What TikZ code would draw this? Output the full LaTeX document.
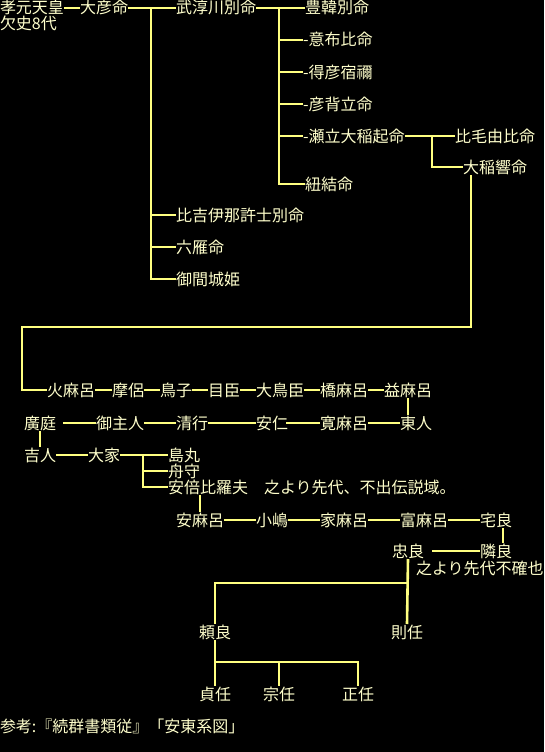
\documentclass[tikz,border=0pt]{standalone}
\usepackage{fontspec}
\setmainfont{Noto Sans CJK JP}
\definecolor{txt}{RGB}{255,255,204}
\definecolor{ln}{RGB}{255,255,128}
\begin{document}
\begin{tikzpicture}[x=1pt,y=-1pt,
  lbl/.style={anchor=west,inner sep=0pt,outer sep=0pt,text=txt,
    font=\fontsize{16}{16}\selectfont,text height=14pt,text depth=2pt},
  lblc/.style={lbl,anchor=center},
  conn/.style={draw=ln,line width=2.6pt}]
\fill[black] (0,0) rectangle (544,752);
\useasboundingbox (0,0) rectangle (544,752);
% nodes
\node[lbl] (kogen) at (0,8) {孝元天皇};
\node[lbl] (kesshi) at (0,24) {欠史8代};
\node[lbl] (ohiko) at (80,8) {大彦命};
\node[lbl] (take) at (176,8) {武淳川別命};
\node[lbl] (toyo) at (305,8) {豊韓別命};
\node[lbl] (ofu) at (303,40) {-意布比命};
\node[lbl] (toku) at (303,72) {-得彦宿禰};
\node[lbl] (hikose) at (303,104) {-彦背立命};
\node[lbl] (seta) at (303,136) {-瀬立大稲起命};
\node[lbl] (himo) at (455,136) {比毛由比命};
\node[lbl] (oina) at (463,167) {大稲響命};
\node[lbl] (himoyui) at (305,184) {紐結命};
\node[lbl] (hiki) at (176,215) {比吉伊那許士別命};
\node[lbl] (mutsu) at (176,247) {六雁命};
\node[lbl] (mima) at (176,279) {御間城姫};
% row 390
\node[lbl] (hima) at (47,390) {火麻呂};
\node[lbl] (maro) at (112,390) {摩侶};
\node[lbl] (tori) at (160,390) {鳥子};
\node[lbl] (meomi) at (208,390) {目臣};
\node[lbl] (otori) at (256,390) {大鳥臣};
\node[lbl] (hashi) at (320,390) {橋麻呂};
\node[lbl] (masu) at (384,390) {益麻呂};
% row 423
\node[lbl] (hiro) at (24,423) {廣庭};
\node[lbl] (miushi) at (96,423) {御主人};
\node[lbl] (kiyo) at (176,423) {清行};
\node[lbl] (yasu) at (256,423) {安仁};
\node[lbl] (kan) at (320,423) {寛麻呂};
\node[lbl] (azuma) at (400,423) {東人};
% row 455
\node[lbl] (kichi) at (24,455) {吉人};
\node[lbl] (oie) at (88,455) {大家};
\node[lbl] (shima) at (168,455) {島丸};
\node[lbl] (funa) at (168,471) {舟守};
\node[lbl] (abe) at (168,487) {安倍比羅夫};
\node[lbl] (note1) at (264,487) {之より先代、不出伝説域。};
% row 520
\node[lbl] (yasumaro) at (176,520) {安麻呂};
\node[lbl] (kojima) at (256,520) {小嶋};
\node[lbl] (iemaro) at (320,520) {家麻呂};
\node[lbl] (tomi) at (400,520) {富麻呂};
\node[lbl] (takara) at (480,520) {宅良};
\node[lbl] (tada) at (392,551) {忠良};
\node[lbl] (tonari) at (480,551) {隣良};
\node[lbl] (note2) at (416,568) {之より先代不確也};
\node[lblc] (yori) at (215,632) {頼良};
\node[lblc] (nori) at (407,632) {則任};
\node[lblc] (sada) at (215,694) {貞任};
\node[lblc] (mune) at (279,694) {宗任};
\node[lblc] (masa) at (358,694) {正任};
\node[lbl] (ref) at (0,726) {参考:『続群書類従』「安東系図」};
% coordinates
\coordinate (b1) at (151,8);
\coordinate (b2) at (279,8);
\coordinate (b3) at (432,136);
\coordinate (b4) at (143,455);
\coordinate (c1) at (22,327);
\coordinate (j1) at (0,583);
\coordinate (j2) at (0,662);
% connectors
\draw[conn] (kogen.east) -- (ohiko.west);
\draw[conn] (ohiko.east) -- (take.west);
\draw[conn] (b1) |- (mima.west);
\draw[conn] (b1 |- hiki.west) -- (hiki.west);
\draw[conn] (b1 |- mutsu.west) -- (mutsu.west);
\draw[conn] (take.east) -- (toyo.west);
\draw[conn] (b2) |- (himoyui.west);
\draw[conn] (b2 |- ofu.west) -- (ofu.west);
\draw[conn] (b2 |- toku.west) -- (toku.west);
\draw[conn] (b2 |- hikose.west) -- (hikose.west);
\draw[conn] (b2 |- seta.west) -- (seta.west);
\draw[conn] (seta.east) -- (himo.west);
\draw[conn] (b3) |- (oina.west);
\draw[conn] ([xshift=8pt]oina.south west) |- (c1) |- (hima.west);
\draw[conn] (hima.east) -- (maro.west);
\draw[conn] (maro.east) -- (tori.west);
\draw[conn] (tori.east) -- (meomi.west);
\draw[conn] (meomi.east) -- (otori.west);
\draw[conn] (otori.east) -- (hashi.west);
\draw[conn] (hashi.east) -- (masu.west);
\draw[conn] (masu.south) -- (masu.south |- azuma.north);
\draw[conn] ([xshift=7pt]hiro.east) -- (miushi.west);
\draw[conn] (miushi.east) -- (kiyo.west);
\draw[conn] (kiyo.east) -- (yasu.west);
\draw[conn] ([xshift=-2pt]yasu.east) -- (kan.west);
\draw[conn] (kan.east) -- (azuma.west);
\draw[conn] (hiro.south) -- (kichi.north);
\draw[conn] (kichi.east) -- (oie.west);
\draw[conn] (oie.east) -- (shima.west);
\draw[conn] (b4) |- (abe.west);
\draw[conn] (b4 |- funa.west) -- (funa.west);
\draw[conn] (yasumaro.north |- abe.south) -- (yasumaro.north);
\draw[conn] (yasumaro.east) -- (kojima.west);
\draw[conn] (kojima.east) -- (iemaro.west);
\draw[conn] (iemaro.east) -- (tomi.west);
\draw[conn] (tomi.east) -- (takara.west);
\draw[conn] ([xshift=7pt]takara.south) -- ([xshift=7pt]tonari.north);
\draw[conn] ([xshift=8pt]tada.east) -- (tonari.west);
\draw[conn] (tada.south) -- (nori.north);
\draw[conn] (tada.south |- j1) -| (yori.north);
\draw[conn] (yori.south) -- (sada.north);
\draw[conn] (yori.south |- j2) -| (masa.north);
\draw[conn] (mune.north |- j2) -- (mune.north);
\end{tikzpicture}
\end{document}
